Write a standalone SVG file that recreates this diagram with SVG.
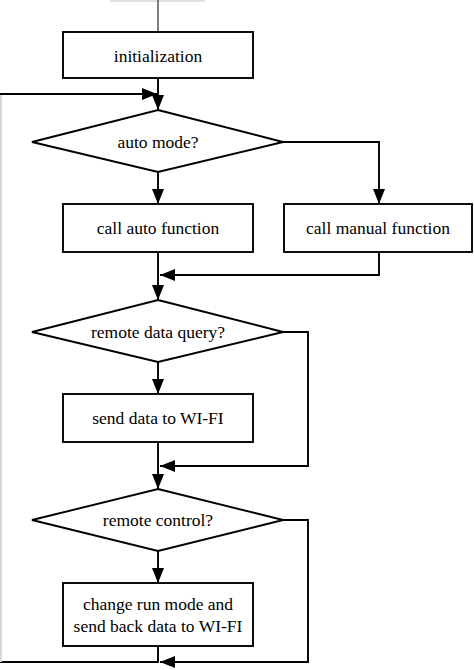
<svg xmlns="http://www.w3.org/2000/svg" width="474" height="670" viewBox="0 0 474 670">
<style>
.box{fill:#fff;stroke:#000;stroke-width:1.9}
.con{fill:none;stroke:#000;stroke-width:1.9}
.t{font-family:"Liberation Serif","Times New Roman",serif;font-size:17.5px;fill:#000;text-anchor:middle;dominant-baseline:central}
</style>
<defs>
<marker id="ah" viewBox="0 0 15 12" refX="15" refY="6" markerWidth="15" markerHeight="12" markerUnits="userSpaceOnUse" orient="auto">
<path d="M0,0 L15,6 L0,12 z" fill="#000"/>
</marker>
</defs>
<rect x="0" y="0" width="474" height="670" fill="#fff"/>
<rect x="110" y="0" width="95" height="2" fill="#e0e0e0"/>
<g id="connectors">
<line x1="158" y1="0" x2="158" y2="32" stroke="#555" stroke-width="1.5"/>
<path class="con" d="M158,78 V110" marker-end="url(#ah)"/>
<path class="con" d="M158,172 V204" marker-end="url(#ah)"/>
<path class="con" d="M283,142 H379 V204" marker-end="url(#ah)"/>
<path class="con" d="M158,252 V300" marker-end="url(#ah)"/>
<path class="con" d="M379,252 V275 H160" marker-end="url(#ah)"/>
<path class="con" d="M158,362 V394" marker-end="url(#ah)"/>
<path class="con" d="M283,332 H308 V466 H160" marker-end="url(#ah)"/>
<path class="con" d="M158,442 V489" marker-end="url(#ah)"/>
<path class="con" d="M158,551 V583" marker-end="url(#ah)"/>
<path class="con" d="M283,520 H308 V662 H160" marker-end="url(#ah)"/>
<path class="con" d="M158,646 V662 H0"/>
<line x1="1" y1="94" x2="1" y2="662" stroke="#d8d8d8" stroke-width="2"/>
<path class="con" d="M0,94 H157" marker-end="url(#ah)"/>
</g>
<g id="init">
<rect class="box" x="63" y="32" width="190" height="46"/>
<text class="t" x="158" y="56">initialization</text>
</g>
<g id="autoMode">
<polygon class="box" points="158,110 283,142 158,172 32,142"/>
<text class="t" x="158" y="142">auto mode?</text>
</g>
<g id="autoFunc">
<rect class="box" x="63" y="204" width="190" height="48"/>
<text class="t" x="158" y="228">call auto function</text>
</g>
<g id="manualFunc">
<rect class="box" x="284" y="204" width="188" height="48"/>
<text class="t" x="378" y="228">call manual function</text>
</g>
<g id="query">
<polygon class="box" points="158,300 283,332 158,362 32,332"/>
<text class="t" x="158" y="332">remote data query?</text>
</g>
<g id="sendData">
<rect class="box" x="63" y="394" width="190" height="48"/>
<text class="t" x="158" y="418">send data to WI-FI</text>
</g>
<g id="control">
<polygon class="box" points="158,489 283,520 158,551 32,520"/>
<text class="t" x="158" y="520">remote control?</text>
</g>
<g id="change">
<rect class="box" x="63" y="583" width="190" height="63"/>
<text class="t" x="158" y="604">change run mode and</text>
<text class="t" x="158" y="626">send back data to WI-FI</text>
</g>
</svg>
